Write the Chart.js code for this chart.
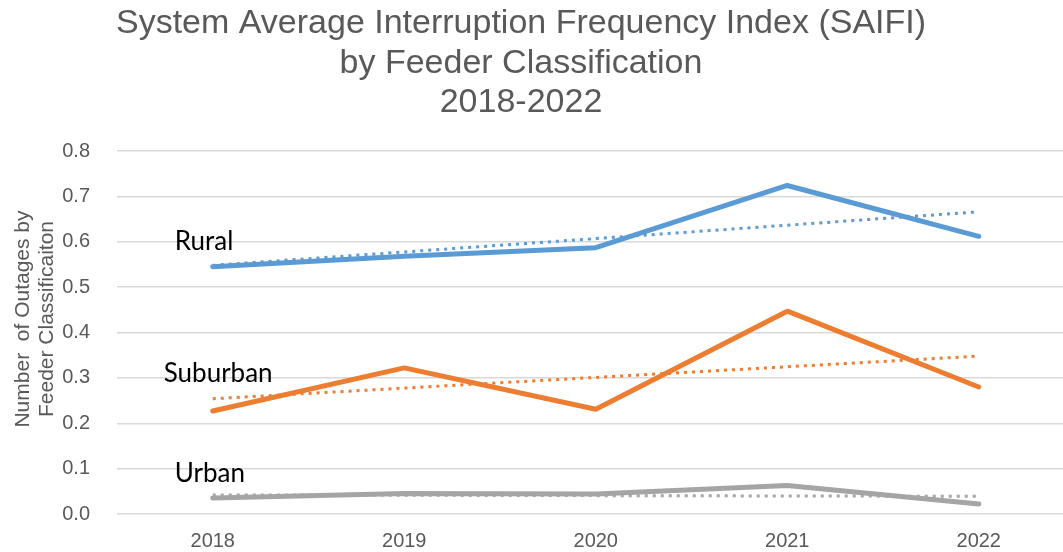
<!DOCTYPE html>
<html>
<head>
<meta charset="utf-8">
<title>SAIFI by Feeder Classification</title>
<script src="https://cdn.jsdelivr.net/npm/chart.js@4.4.1/dist/chart.umd.min.js"></script>
<style>
  html, body { margin: 0; padding: 0; background: #fff; overflow: hidden; }
  #wrap { position: relative; width: 1080px; height: 568px; }
</style>
</head>
<body>
<div id="wrap"><canvas id="saifiChart"></canvas></div>
<script>
// SAIFI values per feeder class, 2018-2022
var years = ['2018', '2019', '2020', '2021', '2022'];
var rural = [0.545, 0.568, 0.587, 0.724, 0.612];
var suburban = [0.227, 0.322, 0.231, 0.447, 0.280];
var urban = [0.035, 0.045, 0.044, 0.063, 0.022];

// linear trendlines, only the end points are given
var ruralTrend = [0.548, null, null, null, 0.666];
var suburbanTrend = [0.254, null, null, null, 0.348];
var urbanTrend = [0.042, null, null, null, 0.039];

var yTicks = [0, 0.1, 0.2, 0.3, 0.4, 0.5, 0.6, 0.7, 0.8];

var titleLines = ['System Average Interruption Frequency Index (SAIFI)', 'by Feeder Classification', '2018-2022'];
var axisTitleLines = ['Number  of Outages by', 'Feeder Classificaiton'];

var BLUE = '#5b9bd5', ORANGE = '#ed7d31', GREY = '#a5a5a5';
var TEXT = '#595959';

function mainLine(label, data, color) {
    return {
        label: label, data: data, borderColor: color, backgroundColor: color,
        borderWidth: 5, pointRadius: 0, tension: 0, order: 2,
        borderCapStyle: 'round', borderJoinStyle: 'round'
    };
}

function trendLine(label, data, color) {
    return {
        label: label, data: data, borderColor: color, backgroundColor: color,
        borderWidth: 3, borderDash: [3, 5], pointRadius: 0, spanGaps: true, order: 1
    };
}

// title, rotated axis title and the series names sitting inside the plot
var textPlugin = {
    id: 'chartText',
    afterDraw: function (chart) {
        var ctx = chart.ctx;
        var x = chart.scales.x, y = chart.scales.y;
        ctx.save();

        ctx.fillStyle = TEXT;
        ctx.font = '34px "Liberation Sans", Arial, sans-serif';
        ctx.textAlign = 'center';
        ctx.textBaseline = 'alphabetic';
        var baselines = [33, 72.5, 112];
        titleLines.forEach(function (t, i) { ctx.fillText(t, 521, baselines[i]); });

        ctx.font = '21px "Liberation Sans", Arial, sans-serif';
        ctx.textBaseline = 'middle';
        ctx.translate(0, 319);
        ctx.rotate(-Math.PI / 2);
        ctx.fillText(axisTitleLines[0], 0, 23);
        ctx.fillText(axisTitleLines[1], 0, 47);
        ctx.setTransform(1, 0, 0, 1, 0, 0);

        ctx.fillStyle = '#000';
        ctx.font = '26px Lato, "Open Sans", sans-serif';
        ctx.textAlign = 'left';
        var x0 = x.getPixelForValue(0);
        ctx.fillText('Rural', x0 - 38, y.getPixelForValue(0.6));
        ctx.fillText('Suburban', x0 - 49, y.getPixelForValue(0.31));
        ctx.fillText('Urban', x0 - 38, y.getPixelForValue(0.09));
        ctx.restore();
    }
};

new Chart(document.getElementById('saifiChart'), {
    type: 'line',
    data: {
        labels: years,
        datasets: [
            mainLine('Rural', rural, BLUE),
            mainLine('Suburban', suburban, ORANGE),
            mainLine('Urban', urban, GREY),
            trendLine('Rural trend', ruralTrend, BLUE),
            trendLine('Suburban trend', suburbanTrend, ORANGE),
            trendLine('Urban trend', urbanTrend, GREY)
        ]
    },
    options: {
        responsive: true,
        maintainAspectRatio: false,
        animation: false,
        layout: { padding: { top: 151, right: 5.5, bottom: 0, left: 0 } },
        plugins: {
            legend: { display: false },
            tooltip: { enabled: false },
            title: { display: false }
        },
        scales: {
            x: {
                offset: true,
                grid: { display: false, drawTicks: false },
                border: { display: false },
                ticks: {
                    color: TEXT, padding: 15,
                    font: { family: '"Liberation Sans", Arial, sans-serif', size: 20 }
                }
            },
            y: {
                min: 0, max: 0.8,
                afterBuildTicks: function (axis) {
                    axis.ticks = yTicks.map(function (v) { return { value: v }; });
                },
                afterFit: function (axis) { axis.width = 117; },
                grid: { color: '#d9d9d9', lineWidth: 1.5, drawTicks: false },
                border: { display: false },
                ticks: {
                    color: TEXT, padding: 27,
                    font: { family: '"Liberation Sans", Arial, sans-serif', size: 20 },
                    callback: function (v) { return Number(v).toFixed(1); }
                }
            }
        }
    },
    plugins: [textPlugin]
});
</script>
</body>
</html>
